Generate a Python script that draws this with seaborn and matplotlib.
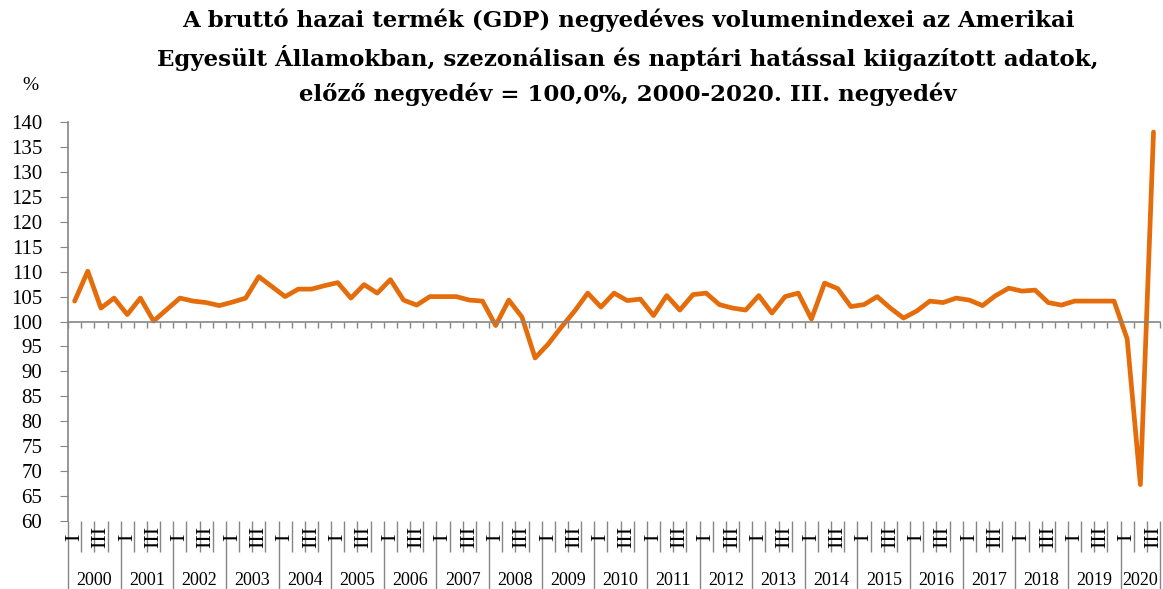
import numpy as np
import pandas as pd
import seaborn as sns
import matplotlib.pyplot as plt
import matplotlib.transforms as mtransforms

# quarterly volume index, previous quarter = 100, 2000 Q1 - 2020 Q3
years = [str(y) for y in range(2000, 2021)]
quarter_labels = ['I', 'II', 'III', 'IV']
gdp_index = [
    104.1, 110.1, 102.7, 104.7,   # 2000
    101.4, 104.7, 100.1, 102.4,   # 2001
    104.7, 104.1, 103.8, 103.2,   # 2002
    103.9, 104.7, 109.0, 107.0,   # 2003
    105.0, 106.5, 106.5, 107.2,   # 2004
    107.8, 104.7, 107.4, 105.7,   # 2005
    108.4, 104.3, 103.3, 105.0,   # 2006
    105.0, 105.0, 104.3, 104.1,   # 2007
    99.2, 104.3, 100.9, 92.7,     # 2008
    95.5, 98.9, 102.1, 105.7,     # 2009
    102.9, 105.7, 104.2, 104.5,   # 2010
    101.2, 105.2, 102.3, 105.4,   # 2011
    105.7, 103.4, 102.7, 102.3,   # 2012
    105.2, 101.7, 105.0, 105.7,   # 2013
    100.5, 107.7, 106.6, 103.0,   # 2014
    103.4, 105.0, 102.7, 100.7,   # 2015
    102.1, 104.1, 103.8, 104.7,   # 2016
    104.3, 103.2, 105.2, 106.7,   # 2017
    106.1, 106.3, 103.8, 103.3,   # 2018
    104.1, 104.1, 104.1, 104.1,   # 2019
    96.5, 67.3, 138.0,            # 2020
]

n = len(gdp_index)
df = pd.DataFrame({'idx': np.arange(n), 'value': gdp_index})
df['quarter'] = [quarter_labels[i % 4] for i in range(n)]

sns.set_style('white')
plt.rcParams['font.family'] = ['Liberation Serif', 'DejaVu Serif']
plt.rcParams['text.color'] = 'black'
plt.rcParams['ytick.labelcolor'] = 'black'

fig = plt.figure(figsize=(11.63, 5.89), dpi=100)
ax = fig.add_axes([0.0585, 0.1154, 0.939, 0.6774])

sns.lineplot(data=df, x='idx', y='value', color='#E46C0A', linewidth=3.4, ax=ax)

ax.set_xlim(-0.5, n - 0.5)
ax.set_ylim(60, 140)
ax.set_yticks(np.arange(60, 141, 5))
ax.tick_params(axis='y', direction='out', length=5.5, color='#868686',
               labelsize=15, labelcolor='black', pad=13, left=True)
ax.set_xlabel('')
ax.set_ylabel('')

for side in ['top', 'right']:
    ax.spines[side].set_visible(False)
ax.spines['left'].set_color('#868686')
ax.spines['left'].set_linewidth(1.2)

# category axis crossing at 100
ax.spines['bottom'].set_position(('data', 100))
ax.spines['bottom'].set_color('#868686')
ax.spines['bottom'].set_linewidth(1.2)
ax.set_xticks(np.arange(-0.5, n, 1))
ax.set_xticklabels([])
ax.tick_params(axis='x', direction='out', length=4.5, color='#868686',
               width=1.0, bottom=True)

# labels at the bottom of the plot area
sec = ax.secondary_xaxis('bottom')
sec.spines['bottom'].set_visible(False)
year_edges = list(np.arange(-0.5, n, 4)) + [n - 0.5]
sec.set_xticks(year_edges)
sec.set_xticklabels([])
sec.set_xticks(np.arange(-0.5, n, 1), minor=True)
sec.tick_params(axis='x', which='major', direction='out', length=50,
                color='#868686', width=1.0)
sec.tick_params(axis='x', which='minor', direction='out', length=22.5,
                color='#868686', width=1.0)

trans = mtransforms.blended_transform_factory(ax.transData, ax.transAxes)
for i, q in enumerate(df['quarter']):
    if q in ('I', 'III'):
        ax.text(i, -0.04, q, rotation=90, ha='center', va='center',
                fontsize=16, color='black', transform=trans)
for k, y in enumerate(years):
    start = 4 * k
    end = min(start + 3, n - 1)
    ax.text((start + end) / 2, -0.148, y, ha='center', va='center',
            fontsize=13, color='black', transform=trans)

fig.text(0.026, 0.855, '%', fontsize=14, ha='center', va='center', color='black')

fig.suptitle('A bruttó hazai termék (GDP) negyedéves volumenindexei az Amerikai\n'
             'Egyesült Államokban, szezonálisan és naptári hatással kiigazított adatok,\n'
             'előző negyedév = 100,0%, 2000-2020. III. negyedév',
             x=0.54, y=0.985, fontsize=16.5, fontweight='bold', linespacing=1.62,
             color='black', family=['DejaVu Serif'])

fig.savefig('out.png', dpi=100)
